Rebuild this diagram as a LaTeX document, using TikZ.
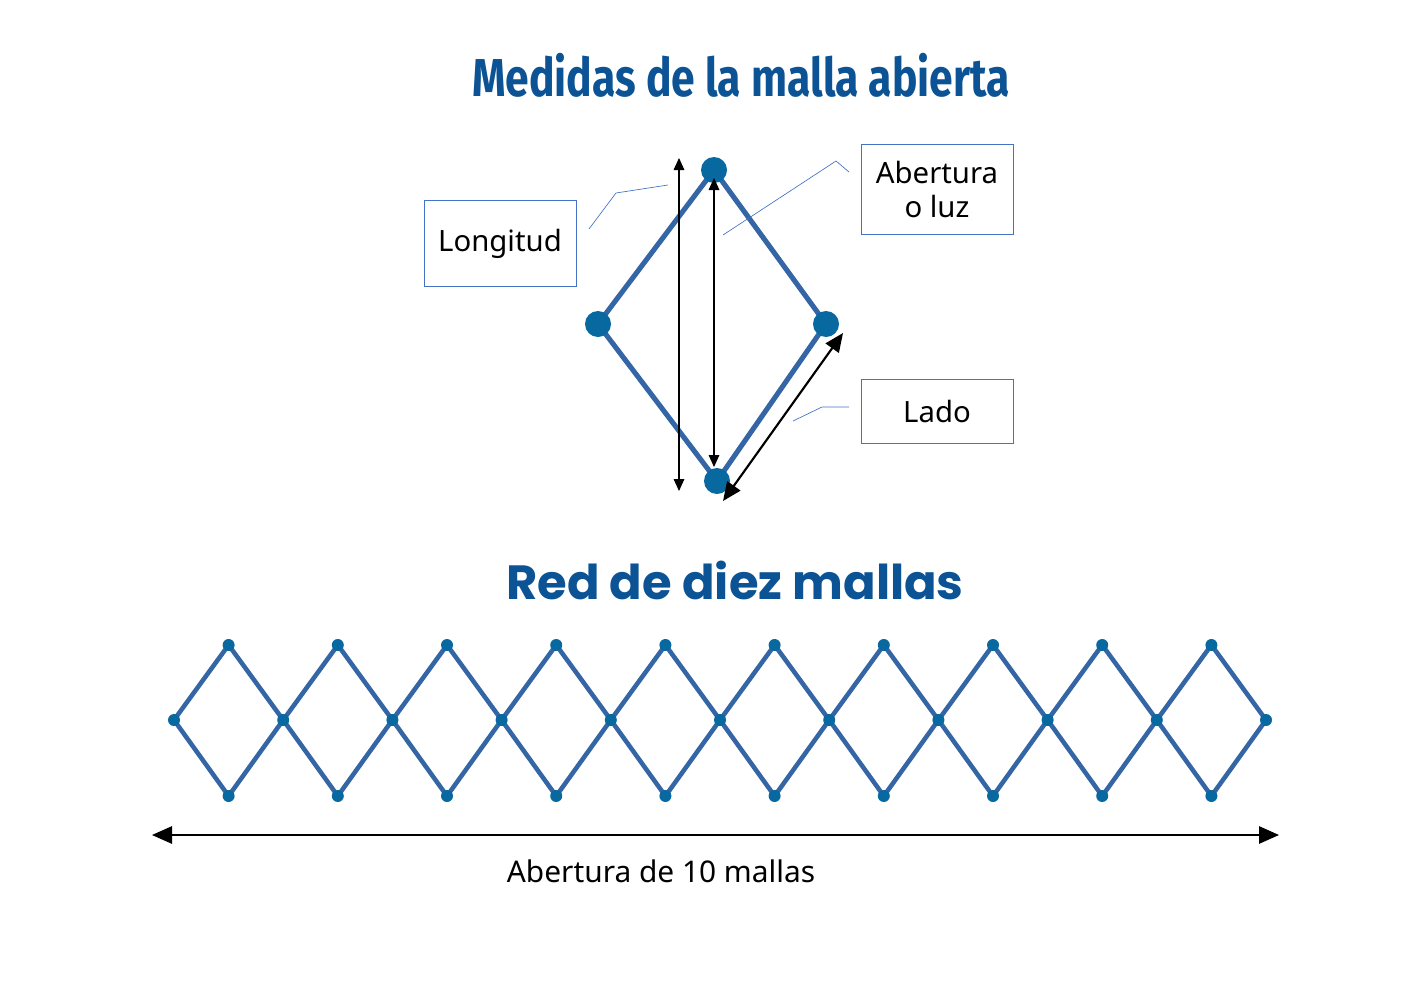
\documentclass[tikz,border=0pt]{standalone}
\usepackage{fontspec}
\setmainfont{Noto Sans}
\newfontfamily\titlefont{Fira Sans}
\newfontfamily\titleb{Poppins}
\usetikzlibrary{arrows.meta}
\definecolor{netline}{HTML}{3465A4}
\definecolor{netdot}{HTML}{0868A0}
\definecolor{ttl}{HTML}{0B5394}
\definecolor{lead}{HTML}{4472C4}
\tikzset{
 edge/.style={netline,line width=3.8pt},
 bigdot/.style={circle,fill=netdot,inner sep=0,minimum size=19.5pt},
 smalldot/.style={circle,fill=netdot,inner sep=0,minimum size=9pt},
 lbl/.style={draw=lead,line width=0.6pt,minimum width=114pt,align=center,font=\fontsize{22}{26}\selectfont},
 leader/.style={lead,line width=0.5pt},
 meas/.style={black,line width=0.8pt,{Triangle[width=8pt,length=9pt]}-{Triangle[width=8pt,length=9pt]}},
}
\begin{document}
\begin{tikzpicture}[x=0.75pt,y=-0.75pt]
\useasboundingbox (0,0) rectangle (1403,992);
\node[ttl,font=\titlefont\bfseries\fontsize{40}{44}\selectfont,xscale=0.8] (t1) at (741,75) {Medidas de la malla abierta};
\node[ttl,font=\titleb\bfseries\fontsize{36}{40}\selectfont,xscale=1.0] (t2) at (735,580) {Red de diez mallas};
% diamond
\coordinate (T) at (714,170); \coordinate (L) at (598,324);
\coordinate (R) at (826,324); \coordinate (B) at (717,481);
\draw[edge] (T)--(R)--(B)--(L)--cycle;
\foreach \p in {T,L,R,B} \node[bigdot] (d\p) at (\p) {};
\coordinate (a1) at (679,158); \coordinate (a2) at (679,491);
\draw[meas] (a1)--(a2);
\coordinate (b1) at (714,178); \coordinate (b2) at (714,467);
\draw[meas] (b1)--(b2);
\coordinate (c1) at (843,333); \coordinate (c2) at (723,501);
\draw[meas,line width=1.6pt,{Triangle[width=12pt,length=14pt]}-{Triangle[width=12pt,length=14pt]}] (c1)--(c2);
% labels
\node[lbl,minimum height=65pt] (lon) at (500,243.5) {Longitud};
\node[lbl,minimum height=68pt] (abe) at (937,189.5) {Abertura\\o luz};
\node[lbl,minimum height=48pt] (lad) at (937,411.5) {Lado};
\coordinate (l1) at (589,229); \coordinate (l2) at (616,193); \coordinate (l3) at (668,185);
\draw[leader] (l1)--(l2)--(l3);
\coordinate (m1) at (849,172); \coordinate (m2) at (836,161); \coordinate (m3) at (723,235);
\draw[leader] (m1)--(m2)--(m3);
\coordinate (n1) at (849,407); \coordinate (n2) at (822,407); \coordinate (n3) at (793,421);
\draw[leader] (n1)--(n2)--(n3);
% net
\foreach \i in {0,...,9}{
  \pgfmathsetmacro\xa{174+109.2*\i}
  \pgfmathsetmacro\xb{174+109.2*(\i+0.5)}
  \pgfmathsetmacro\xc{174+109.2*(\i+1)}
  \coordinate (m\i) at (\xa,720);
  \coordinate (u\i) at (\xb,645);
  \coordinate (w\i) at (\xb,796);
  \coordinate (m\i x) at (\xc,720);
  \draw[edge,line width=3.4pt] (m\i)--(u\i)--(m\i x)--(w\i)--cycle;
}
\foreach \i in {0,...,9}{
  \node[smalldot] at (m\i) {};
  \node[smalldot] at (u\i) {};
  \node[smalldot] at (w\i) {};
}
\node[smalldot] at (m9x) {};
\coordinate (e1) at (152,835); \coordinate (e2) at (1279,835);
\draw[meas,line width=1.4pt,{Triangle[width=13pt,length=15pt]}-{Triangle[width=13pt,length=15pt]}] (e1)--(e2);
\node[font=\fontsize{22.4}{26}\selectfont] (cap) at (661,871) {Abertura de 10 mallas};
\end{tikzpicture}
\end{document}
